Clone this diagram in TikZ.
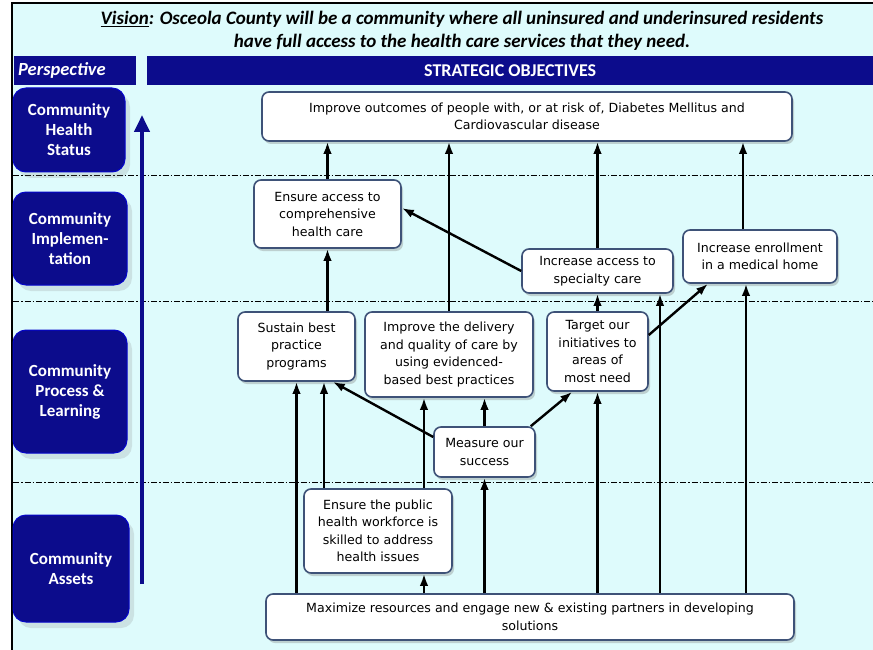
\documentclass[tikz,border=0pt]{standalone}
\usepackage{fontspec}
\setmainfont{DejaVu Sans}
\newfontfamily\calibri{Carlito}
\usetikzlibrary{positioning,arrows.meta,shadows}
\definecolor{perspblue}{RGB}{12,12,140}
\definecolor{paleaqua}{RGB}{222,251,252}
\definecolor{boxrim}{RGB}{62,82,120}

\begin{document}
\begin{tikzpicture}[x=1pt, y=-1pt,
    objective/.style = {draw=boxrim, line width=1.6pt, fill=white, rounded corners=7pt,
      align=center, inner sep=1pt, font=\fontsize{12.6}{17.5}\selectfont,
      drop shadow={shadow xshift=2pt, shadow yshift=-3pt, opacity=0.35}},
    perspective/.style = {fill=perspblue, draw=blue!55!perspblue, line width=1pt, rounded corners=13pt,
      text=white, align=center, font=\calibri\bfseries\fontsize{17}{20}\selectfont,
      drop shadow={shadow xshift=5pt, shadow yshift=-6pt, opacity=0.2}},
    header/.style = {fill=perspblue, text=white, minimum height=29pt, inner sep=0pt,
      font=\calibri\bfseries\fontsize{18}{20}\selectfont},
    leads/.style = {-{Latex[length=12pt,width=8.5pt]}, line width=2.4pt},
    tier/.style = {line width=0.8pt, dash pattern=on 6pt off 2pt on 1.5pt off 2pt}]

  \useasboundingbox (0,0) rectangle (873,650);
  \fill[paleaqua] (12,3) rectangle (873,650);
  \draw[line width=1.5pt] (12,650) -- (12,3) -- (873,3);

  \node[font=\calibri\bfseries\itshape\fontsize{19}{23}\selectfont, align=center] (vision) at (462,31)
    {\underline{Vision}: Osceola County will be a community where all uninsured and underinsured residents\\
     have full access to the health care services that they need.};

  \node[header, anchor=north west, text width=114pt, inner xsep=4pt, align=left,
    font=\calibri\bfseries\itshape\fontsize{18.5}{20}\selectfont] (persphead) at (14,56) {Perspective};
  \node[header, anchor=north west, minimum width=726pt] (objhead) at (147,56) {STRATEGIC OBJECTIVES};

  \foreach \y in {175,301,482}
    \draw[tier] (13,\y) -- (873,\y);

  \node[perspective, minimum width=112pt, minimum height=84pt] (health) at (69,130) {Community\\Health\\Status};
  \node[perspective, minimum width=114pt, minimum height=93pt] (implement) at (70,238.5) {Community\\Implemen-\\tation};
  \node[perspective, minimum width=114pt, minimum height=123pt] (process) at (70,391.5) {Community\\Process \&\\Learning};
  \node[perspective, minimum width=116pt, minimum height=107pt] (assets) at (71,568.5) {Community\\Assets};

  \coordinate (climbfoot) at (142,584);
  \coordinate (climbtip) at (142,115);
  \draw[perspblue, line width=4pt, -{Triangle[length=17pt,width=15pt]}] (climbfoot) -- (climbtip);

  \node[objective, minimum width=530pt, minimum height=49pt] (outcomes) at (527,116.5)
    {Improve outcomes of people with, or at risk of, Diabetes Mellitus and\\Cardiovascular disease};
  \node[objective, minimum width=147pt, minimum height=68pt] (access) at (327.5,214)
    {Ensure access to\\comprehensive\\health care};
  \node[objective, minimum width=151pt, minimum height=44pt] (specialty) at (597.5,271)
    {Increase access to\\specialty care};
  \node[objective, minimum width=154pt, minimum height=53pt] (enroll) at (760,256.5)
    {Increase enrollment\\in a medical home};
  \node[objective, minimum width=117pt, minimum height=69pt] (sustain) at (296.5,346.5)
    {Sustain best\\practice\\programs};
  \node[objective, minimum width=168pt, minimum height=85pt] (delivery) at (449,354.5)
    {Improve the delivery\\and quality of care by\\using evidenced-\\based best practices};
  \node[objective, minimum width=101pt, minimum height=79pt] (target) at (597.5,351.5)
    {Target our\\initiatives to\\areas of\\most need};
  \node[objective, minimum width=101pt, minimum height=50pt] (measure) at (484.5,452)
    {Measure our\\success};
  \node[objective, minimum width=148pt, minimum height=84pt] (workforce) at (378,531)
    {Ensure the public\\health workforce is\\skilled to address\\health issues};
  \node[objective, minimum width=528pt, minimum height=46pt] (resources) at (530,617)
    {Maximize resources and engage new \& existing partners in developing\\solutions};

  \coordinate (enrolltop) at ([xshift=-17pt]enroll.north);
  \coordinate (enrollfoot) at ([xshift=-14pt]enroll.south);
  \coordinate (specfoot) at ([xshift=62.5pt]specialty.south);
  \coordinate (worktopleft) at ([xshift=-54pt]workforce.north);
  \coordinate (worktopright) at ([xshift=46pt]workforce.north);

  \draw[leads] (access.north) -- (access.north |- outcomes.south);
  \draw[leads] (delivery.north) -- (delivery.north |- outcomes.south);
  \draw[leads] (specialty.north) -- (specialty.north |- outcomes.south);
  \draw[leads] (enrolltop) -- (enrolltop |- outcomes.south);

  \draw[leads] (specialty.west) -- ([yshift=6pt]access.east);
  \draw[leads] (access.south |- sustain.north) -- (access.south);
  \draw[leads] (target.north) -- (target.north |- specialty.south);
  \draw[leads] ([yshift=16.5pt]target.east) -- ([xshift=-52pt]enroll.south);
  \draw[leads] (specfoot |- resources.north) -- (specfoot);
  \draw[leads] (enrollfoot |- resources.north) -- (enrollfoot);

  \draw[leads] (sustain.south |- resources.north) -- (sustain.south);
  \draw[leads] (worktopleft) -- (worktopleft |- sustain.south);
  \draw[leads] (worktopright) -- (worktopright |- delivery.south);
  \draw[leads] (worktopright |- resources.north) -- (workforce.south -| worktopright);
  \draw[leads] (measure.north) -- (measure.north |- delivery.south);
  \draw[leads] ([yshift=15pt]measure.west) -- ([xshift=-23pt]sustain.south east);
  \draw[leads] ([xshift=-5pt]measure.north east) -- ([xshift=26pt]target.south west);
  \draw[leads] (measure.south |- resources.north) -- (measure.south);
  \draw[leads] (target.south |- resources.north) -- (target.south);
\end{tikzpicture}
\end{document}
